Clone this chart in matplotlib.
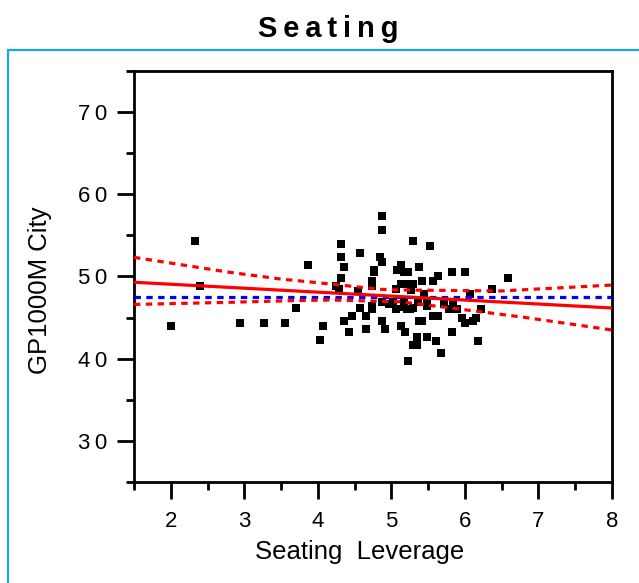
import numpy as np
import matplotlib
matplotlib.use("Agg")
import matplotlib.pyplot as plt
from matplotlib.patches import Rectangle
from matplotlib.ticker import FixedLocator

plt.rcParams['font.family'] = ['Liberation Sans', 'DejaVu Sans']

# ---- data ----
seating_leverage = [
    2.00, 2.33, 2.40, 2.94, 3.27, 3.56, 3.70, 3.86, 4.07, 4.03,
    4.87, 4.87, 4.32, 5.30, 5.52, 4.58, 4.32, 4.84, 4.87, 4.36,
    4.76, 4.76, 5.13, 5.08, 5.17, 5.23, 5.38, 5.63, 5.82, 6.00,
    4.32, 4.73, 5.13, 5.23, 5.30, 5.41, 5.56, 4.25, 4.29, 4.54,
    4.73, 5.06, 5.26, 5.45, 6.07, 6.37, 6.59, 4.58, 4.47, 4.65,
    4.36, 4.65, 4.43, 4.73, 4.73, 4.87, 4.97, 5.02, 5.06, 5.17,
    5.17, 5.21, 5.25, 5.30, 5.36, 5.49, 5.49, 4.87, 4.91, 5.13,
    5.19, 5.38, 5.42, 5.56, 5.63, 5.35, 5.49, 5.29, 5.35, 5.60,
    5.67, 5.23, 5.82, 5.72, 5.78, 5.84, 5.89, 5.96, 6.00, 6.11,
    6.15, 6.22, 6.18,
]
gp1000m_city = [
    44.0, 54.3, 48.8, 44.3, 44.3, 44.3, 46.2, 51.4, 44.0, 42.3,
    57.3, 55.7, 54.0, 54.35, 53.75, 52.8, 52.4, 52.4, 51.8, 51.1,
    50.8, 50.5, 51.4, 50.8, 50.5, 50.5, 51.1, 50.1, 50.5, 50.5,
    49.85, 49.5, 49.1, 49.1, 49.1, 49.5, 49.5, 48.9, 48.5, 48.2,
    48.9, 48.5, 48.4, 47.9, 47.9, 48.5, 49.85, 46.2, 45.2, 45.2,
    44.6, 43.65, 43.3, 46.4, 46.1, 46.9, 46.6, 46.9, 46.0, 46.9,
    46.3, 46.0, 46.0, 46.2, 46.9, 46.9, 46.4, 44.6, 43.65, 44.0,
    43.3, 44.6, 44.6, 45.2, 45.2, 42.7, 42.7, 41.7, 41.7, 42.1,
    40.7, 39.75, 43.3, 46.6, 46.0, 46.6, 46.0, 45.0, 44.3, 44.6,
    45.0, 46.0, 42.1,
]

# fitted line, mean line and confidence curves
fit_x = [1.5, 8.0]
fit_y = [49.30, 46.17]
mean_level = 47.54
upper_x = [1.5, 2.8, 3.49, 4.17, 4.85, 5.12, 6.49, 8.0]
upper_y = [52.33, 50.51, 49.70, 49.09, 48.44, 48.36, 48.24, 48.96]
lower_x = [1.5, 2.8, 3.63, 4.17, 5.12, 6.03, 6.8, 8.0]
lower_y = [46.60, 46.86, 47.06, 47.14, 46.93, 45.92, 45.04, 43.49]

x_ticks = [2, 3, 4, 5, 6, 7, 8]
y_ticks = [30, 40, 50, 60, 70]
x_minor = [1.5, 2.5, 3.5, 4.5, 5.5, 6.5, 7.5]
y_minor = [25, 35, 45, 55, 65, 75]
x_range = [1.5, 8]
y_range = [25, 75]

W, H = 639, 583
fig = plt.figure(figsize=(W / 100, H / 100), dpi=100)

# light-blue frame
fig.patches.append(Rectangle((8 / W, -0.2), 1.2, 1 - 50 / H + 0.2, transform=fig.transFigure,
                             fill=False, edgecolor='#1AA7E0', linewidth=1.6))

ax = fig.add_axes([134 / W, 1 - 482 / H, (612 - 134) / W, (482 - 71) / H])
ax.set_xlim(*x_range)
ax.set_ylim(*y_range)

dash = (0, (2.0, 1.7))
ax.scatter(seating_leverage, gp1000m_city, marker='s', s=30, color='black', linewidths=0, zorder=3)
ax.plot(x_range, [mean_level, mean_level], color='#0000FF', lw=2.3, ls=dash, zorder=4)
ax.plot(fit_x, fit_y, color='#FF0000', lw=2.3, zorder=5)
ax.plot(upper_x, upper_y, color='#FF0000', lw=2.3, ls=dash, zorder=5)
ax.plot(lower_x, lower_y, color='#FF0000', lw=2.3, ls=dash, zorder=5)

for sp in ax.spines.values():
    sp.set_linewidth(2.0)

ax.xaxis.set_major_locator(FixedLocator(x_ticks))
ax.xaxis.set_minor_locator(FixedLocator(x_minor))
ax.yaxis.set_major_locator(FixedLocator(y_ticks))
ax.yaxis.set_minor_locator(FixedLocator(y_minor))
ax.set_xticklabels([str(v) for v in x_ticks])
ax.set_yticklabels(['\u2009'.join(str(v)) for v in y_ticks])
ax.tick_params(which='major', direction='out', length=12, width=2.0, labelsize=16, pad=7)
ax.tick_params(which='minor', direction='out', length=6, width=2.0)
ax.tick_params(axis='x', which='major', pad=9)

fig.text(328 / W, 1 - 37 / H, 'S\u2009e\u2009a\u2009t\u2009i\u2009n\u2009g', ha='center', va='baseline',
         fontsize=21, fontweight='bold')
fig.text(360 / W, 1 - 552 / H, 'Seating  Leverage', ha='center', va='center', fontsize=18.5)
fig.text(40 / W, 1 - 290 / H, 'GP1000M City', ha='center', va='center', rotation=90, fontsize=18.5)

fig.savefig('out.png', dpi=100)
